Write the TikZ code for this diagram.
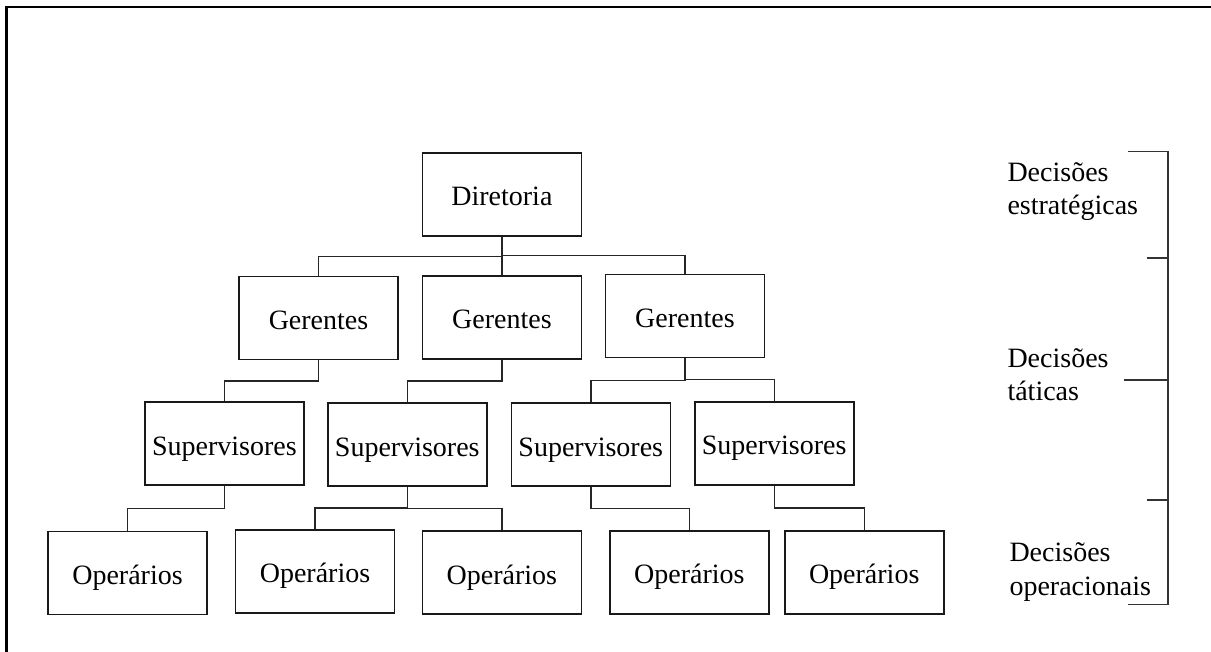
\documentclass[tikz,border=0pt]{standalone}
\usepackage{fontspec}
\setmainfont{Liberation Serif}
\usetikzlibrary{calc}

\begin{document}
\begin{tikzpicture}[x=1pt,y=-1pt,
  orgbox/.style={draw=black!90, line width=1.6pt, minimum width=159pt, minimum height=83pt,
    inner sep=0pt, text height=23pt, text depth=0pt,
    font=\fontsize{28}{33.3}\selectfont},
  link/.style={draw=black!85, line width=1.4pt},
  elbow/.style={to path={(\tikztostart) |- ($(\tikztostart)!0.5!(\tikztotarget)$) -| (\tikztotarget)}},
  levellabel/.style={anchor=base west, inner sep=0pt, font=\fontsize{28}{33.3}\selectfont},
  brace/.style={draw=black!80, line width=1.6pt}]

  % page area and the two frame edges
  \useasboundingbox (0,0) rectangle (1211,652);
  \draw[line width=2.4pt] (6.5,652) -- (6.5,7.3) -- (1211,7.3);

  % hierarchy boxes
  \node[orgbox] (dir) at (501.9,194.5) {Diretoria};

  \node[orgbox] (g1) at (318.5,318) {Gerentes};
  \node[orgbox] (g2) at (501.9,317.5) {Gerentes};
  \node[orgbox] (g3) at (684.9,316) {Gerentes};

  \node[orgbox] (s1) at (224.4,443.7) {Supervisores};
  \node[orgbox] (s2) at (407.3,444.7) {Supervisores};
  \node[orgbox] (s3) at (590.8,444.7) {Supervisores};
  \node[orgbox] (s4) at (774.2,443.3) {Supervisores};

  \node[orgbox] (o1) at (127.5,572.9) {Operários};
  \node[orgbox] (o2) at (315,571.2) {Operários};
  \node[orgbox] (o3) at (501.8,572.5) {Operários};
  \node[orgbox] (o4) at (689.4,572.4) {Operários};
  \node[orgbox] (o5) at (864.2,572.4) {Operários};

  % elbow connectors from each parent to its children
  \path[link] (dir.south) edge[elbow] (g1.north)
                          edge[elbow] (g2.north)
                          edge[elbow] (g3.north);
  \path[link] (g1.south) edge[elbow] (s1.north);
  \path[link] (g2.south) edge[elbow] (s2.north);
  \path[link] (g3.south) edge[elbow] (s3.north)
                         edge[elbow] (s4.north);
  \path[link] (s1.south) edge[elbow] (o1.north);
  \path[link] (s2.south) edge[elbow] (o2.north)
                         edge[elbow] (o3.north);
  \path[link] (s3.south) edge[elbow] (o4.north);
  \path[link] (s4.south) edge[elbow] (o5.north);

  % decision-level bracket on the right
  \coordinate (bt) at (1167.7,151.7);
  \coordinate (bb) at (1167.7,604.3);
  \draw[brace] (1127.7,151.7) -- (bt) -- (bb) -- (1127.7,604.3);
  \draw[brace] (1146.7,258.3) -- (1167.7,258.3);
  \draw[brace] (1124,380) -- (1167.7,380);
  \draw[brace] (1146.7,500) -- (1167.7,500);

  % decision-level labels
  \node[levellabel] (lstrat) at (1007.3,181.7)
    {\begin{tabular}[t]{@{}l@{}}Decisões\\estratégicas\end{tabular}};
  \node[levellabel] (ltact) at (1007.3,367.7)
    {\begin{tabular}[t]{@{}l@{}}Decisões\\táticas\end{tabular}};
  \node[levellabel] (loper) at (1009.3,561.7)
    {\begin{tabular}[t]{@{}l@{}}Decisões\\operacionais\end{tabular}};
\end{tikzpicture}
\end{document}
